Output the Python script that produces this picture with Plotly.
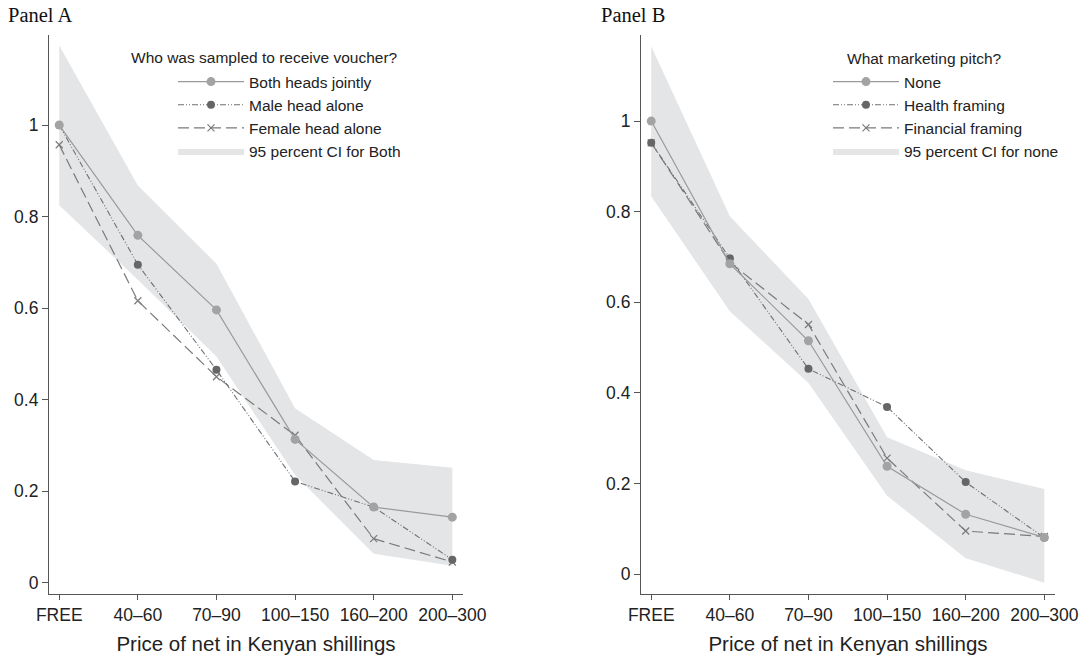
import plotly.graph_objects as go

categories = ["FREE", "40\u201360", "70\u201390", "100\u2013150", "160\u2013200", "200\u2013300"]

# Panel A
a_both = [1.0, 0.759, 0.596, 0.313, 0.165, 0.143]
a_male = [1.0, 0.695, 0.465, 0.221, 0.165, 0.050]
a_female = [0.957, 0.616, 0.450, 0.322, 0.096, 0.045]
a_ci_upper = [1.174, 0.868, 0.697, 0.381, 0.268, 0.251]
a_ci_lower = [0.825, 0.662, 0.494, 0.235, 0.063, 0.037]

# Panel B
b_none = [1.0, 0.685, 0.515, 0.238, 0.132, 0.081]
b_health = [0.952, 0.697, 0.453, 0.369, 0.203, 0.080]
b_financial = [0.952, 0.688, 0.551, 0.256, 0.095, 0.083]
b_ci_upper = [1.165, 0.790, 0.607, 0.302, 0.229, 0.188]
b_ci_lower = [0.834, 0.580, 0.422, 0.173, 0.035, -0.019]

y_ticks = [0, 0.2, 0.4, 0.6, 0.8, 1]
y_ticktext = ["0", "0.2", "0.4", "0.6", "0.8", "1"]

FONT = "Liberation Sans, Arial, sans-serif"
SERIF = "Liberation Serif, Times New Roman, serif"
TXT = "#222222"
CI_COLOR = "#e4e5e7"
x_idx = list(range(len(categories)))

fig = go.Figure()


def add_panel(xa, ya, legend, upper, lower, s1, s2, s3, names, ci_name):
    fig.add_trace(go.Scatter(x=x_idx, y=upper, xaxis=xa, yaxis=ya, mode="lines",
                             line=dict(width=0, color=CI_COLOR), showlegend=False,
                             hoverinfo="skip", legend=legend))
    fig.add_trace(go.Scatter(x=x_idx, y=lower, xaxis=xa, yaxis=ya, mode="lines",
                             line=dict(width=0, color=CI_COLOR), fill="tonexty",
                             fillcolor=CI_COLOR, name=ci_name, legend=legend,
                             legendrank=4))
    fig.add_trace(go.Scatter(x=x_idx, y=s3, xaxis=xa, yaxis=ya, mode="lines+markers",
                             name=names[2], legend=legend, legendrank=3,
                             line=dict(color="#7a7a7a", width=1.2, dash="11px,5px"),
                             marker=dict(symbol="x-thin", size=7,
                                         line=dict(color="#7a7a7a", width=1.2))))
    fig.add_trace(go.Scatter(x=x_idx, y=s2, xaxis=xa, yaxis=ya, mode="lines+markers",
                             name=names[1], legend=legend, legendrank=2,
                             line=dict(color="#707070", width=1.1,
                                       dash="6px,2px,1px,2px,1px,2px"),
                             marker=dict(symbol="circle", size=8, color="#666666")))
    fig.add_trace(go.Scatter(x=x_idx, y=s1, xaxis=xa, yaxis=ya, mode="lines+markers",
                             name=names[0], legend=legend, legendrank=1,
                             line=dict(color="#9a9a9a", width=1.2),
                             marker=dict(symbol="circle", size=9, color="#a3a3a3")))


add_panel("x", "y", "legend", a_ci_upper, a_ci_lower, a_both, a_male, a_female,
          ["Both heads jointly", "Male head alone", "Female head alone"],
          "95 percent CI for Both")
add_panel("x2", "y2", "legend2", b_ci_upper, b_ci_lower, b_none, b_health, b_financial,
          ["None", "Health framing", "Financial framing"],
          "95 percent CI for none")

W, H = 1092, 665
ydom = [1 - 594 / H, 1 - 35 / H]

xaxis_common = dict(
    tickmode="array", tickvals=x_idx, ticktext=categories,
    range=[-0.13, 5.136], showline=True, linecolor="#555555", linewidth=1.2,
    ticks="outside", ticklen=5, tickcolor="#555555", showgrid=False, zeroline=False,
    tickfont=dict(family=FONT, size=17.5, color=TXT),
    title=dict(text="Price of net in Kenyan shillings",
               font=dict(family=FONT, size=20.5, color=TXT), standoff=12),
    automargin=False, fixedrange=True,
)
yaxis_common = dict(
    tickmode="array", tickvals=y_ticks, ticktext=y_ticktext,
    showline=True, linecolor="#555555", linewidth=1.2,
    ticks="outside", ticklen=6, tickcolor="#555555", showgrid=False, zeroline=False,
    tickfont=dict(family=FONT, size=17.5, color=TXT),
    automargin=False, fixedrange=True, domain=ydom,
)

legend_common = dict(
    font=dict(family=FONT, size=15.5, color=TXT),
    bgcolor="rgba(0,0,0,0)", tracegroupgap=0, itemwidth=66,
    xanchor="left", yanchor="top", traceorder="normal",
)


def ann(text, x, y, font, size, xanchor="left"):
    return dict(text=text, x=x / W, y=1 - y / H, xref="paper", yref="paper",
                xanchor=xanchor, yanchor="middle", showarrow=False,
                font=dict(family=font, size=size, color="#111111" if font == SERIF else TXT))


fig.update_layout(
    width=W, height=H,
    margin=dict(l=0, r=0, t=0, b=0),
    paper_bgcolor="white", plot_bgcolor="white",
    xaxis=dict(domain=[49 / W, 463 / W], **xaxis_common),
    yaxis=dict(range=[-0.025, 1.197], anchor="x", **yaxis_common),
    xaxis2=dict(domain=[641 / W, 1055 / W], anchor="y2", **xaxis_common),
    yaxis2=dict(range=[-0.044, 1.19], anchor="x2", **yaxis_common),
    legend=dict(x=173 / W, y=1 - 65 / H, **legend_common),
    legend2=dict(x=828 / W, y=1 - 65 / H, **legend_common),
    annotations=[
        ann("Panel A", 6, 15, SERIF, 20.5),
        ann("Panel B", 599, 15, SERIF, 20.5),
        ann("Who was sampled to receive voucher?", 264.5, 57, FONT, 15.5, "center"),
        ann("What marketing pitch?", 924.5, 58, FONT, 15.5, "center"),
    ],
)

fig.write_html("out.html", config={"displayModeBar": False},
               post_script="document.body.style.margin='0px';")
